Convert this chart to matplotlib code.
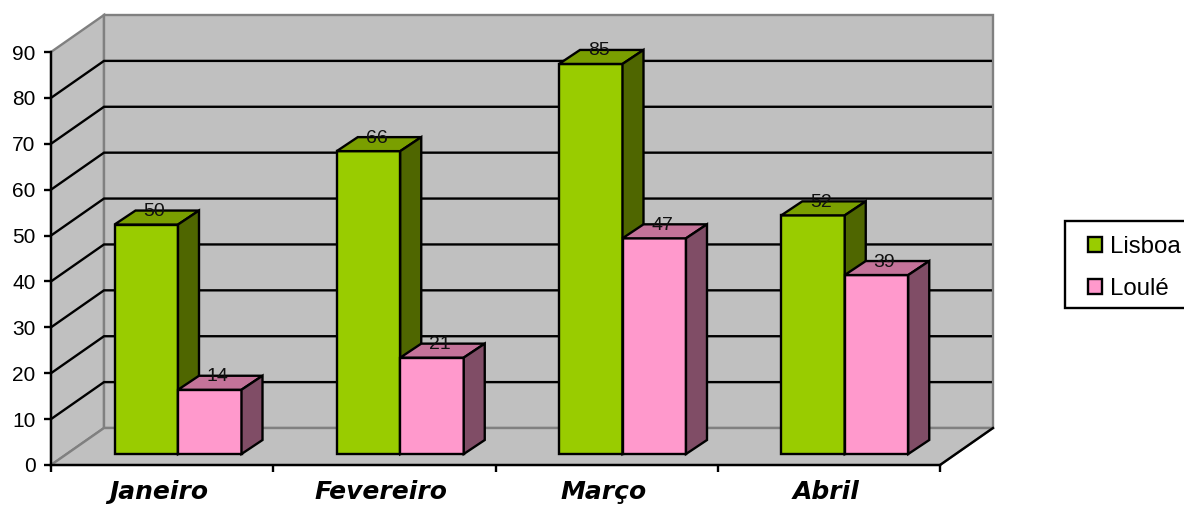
import matplotlib
matplotlib.use('Agg')
import matplotlib.pyplot as plt
from matplotlib.patches import Polygon, Patch, Rectangle

meses = ['Janeiro', 'Fevereiro', 'Março', 'Abril']
lisboa = [50, 66, 85, 52]
loule = [14, 21, 47, 39]
y_ticks = [0, 10, 20, 30, 40, 50, 60, 70, 80, 90]

W, H = 1184, 505
# front plane of the 3D box, in pixels
X0, X1 = 51, 940
Y0, Y90 = 465, 52
px_x = (X1 - X0) / 4
px_y = (Y0 - Y90) / 90

# depth of the box and of the bars, in data units
depth_x = 53 / px_x
depth_y = 37 / px_y
bar_dx = 21 / px_x
bar_dy = 14 / px_y
base_dx = 16 / px_x
base_dy = 11 / px_y
bar_w = 63.5 / px_x
margin = 47.5 / px_x

GREEN = ('#99CC00', '#7A9F00', '#4F6600')
PINK = ('#FF99CC', '#C47399', '#804D66')
WALL = '#C0C0C0'
EDGE = '#808080'
LW = 1.7

plt.rcParams['font.family'] = ['Liberation Sans', 'DejaVu Sans']

fig = plt.figure(figsize=(W / 100, H / 100), dpi=100)
ax = fig.add_axes([X0 / W, (H - Y0) / H, (X1 - X0) / W, (Y0 - Y90) / H])
ax.set_xlim(0, 4)
ax.set_ylim(0, 90)
ax.patch.set_visible(False)


def poly(pts, face, edge='black', lw=LW, z=1):
    ax.add_patch(Polygon(pts, closed=True, facecolor=face, edgecolor=edge, linewidth=lw,
                         joinstyle='miter', clip_on=False, zorder=z))


# walls and floor
poly([(0, 0), (depth_x, depth_y), (depth_x, 90 + depth_y), (0, 90)], WALL, EDGE, LW, 1)
poly([(depth_x, depth_y), (4 + depth_x, depth_y), (4 + depth_x, 90 + depth_y), (depth_x, 90 + depth_y)],
     WALL, EDGE, LW, 1)
poly([(0, 0), (4, 0), (4 + depth_x, depth_y), (depth_x, depth_y)], WALL, EDGE, LW, 1)
ax.plot([4, 4 + depth_x], [0, depth_y], color='black', lw=LW, clip_on=False, zorder=2)

# gridlines on both walls
for v in y_ticks[1:-1]:
    ax.plot([0, depth_x, 4 + depth_x - 0.01], [v, v + depth_y, v + depth_y], color='black', lw=LW,
            clip_on=False, zorder=2, solid_joinstyle='miter')


def bar3d(x, v, cores, z):
    left = x + base_dx
    right = left + bar_w
    y0 = base_dy
    y1 = y0 + v
    poly([(left, y0), (right, y0), (right, y1), (left, y1)], cores[0], z=z)
    poly([(left, y1), (right, y1), (right + bar_dx, y1 + bar_dy), (left + bar_dx, y1 + bar_dy)], cores[1], z=z)
    poly([(right, y0), (right + bar_dx, y0 + bar_dy), (right + bar_dx, y1 + bar_dy), (right, y1)], cores[2], z=z)
    ax.text((left + right) / 2 + 8 / px_x, y1 + bar_dy - 1 / px_y, str(v), ha='center', va='center',
            fontsize=14, color='#111111', zorder=20)


for i in range(len(meses)):
    x = i + margin
    bar3d(x, lisboa[i], GREEN, 5 + i * 2)
    bar3d(x + bar_w, loule[i], PINK, 6 + i * 2)

ax.spines['top'].set_visible(False)
ax.spines['right'].set_visible(False)
for s in ['left', 'bottom']:
    ax.spines[s].set_linewidth(LW)
    ax.spines[s].set_zorder(3)
ax.set_yticks(y_ticks)
ax.set_xticks(range(5))
ax.set_xticklabels([])
ax.tick_params(axis='y', length=5, width=LW, labelsize=15, pad=6)
ax.tick_params(axis='x', length=5, width=LW)

# month names sit on a common baseline under the axis
for i, m in enumerate(meses):
    ax.text(i + 0.5 - 3 / px_x, -34 / px_y, m, ha='center', va='baseline', fontsize=18,
            family='DejaVu Sans', fontweight='bold', fontstyle='italic', clip_on=False)

# legend box runs past the right edge of the figure
fig.add_artist(Rectangle((1065 / W, (H - 308) / H), 140 / W, 87 / H, transform=fig.transFigure,
                         facecolor='white', edgecolor='black', linewidth=LW))
handles = [Patch(facecolor=GREEN[0], edgecolor='black', linewidth=LW, label='Lisboa'),
           Patch(facecolor=PINK[0], edgecolor='black', linewidth=LW, label='Loulé')]
fig.legend(handles=handles, loc='upper left', bbox_to_anchor=(1088 / W, (H - 236) / H),
           bbox_transform=fig.transFigure, fontsize=17.3, frameon=False, borderaxespad=0, borderpad=0,
           handlelength=0.58, handleheight=0.58, handletextpad=0.33, labelspacing=0.82)

fig.savefig('out.png', dpi=100)
